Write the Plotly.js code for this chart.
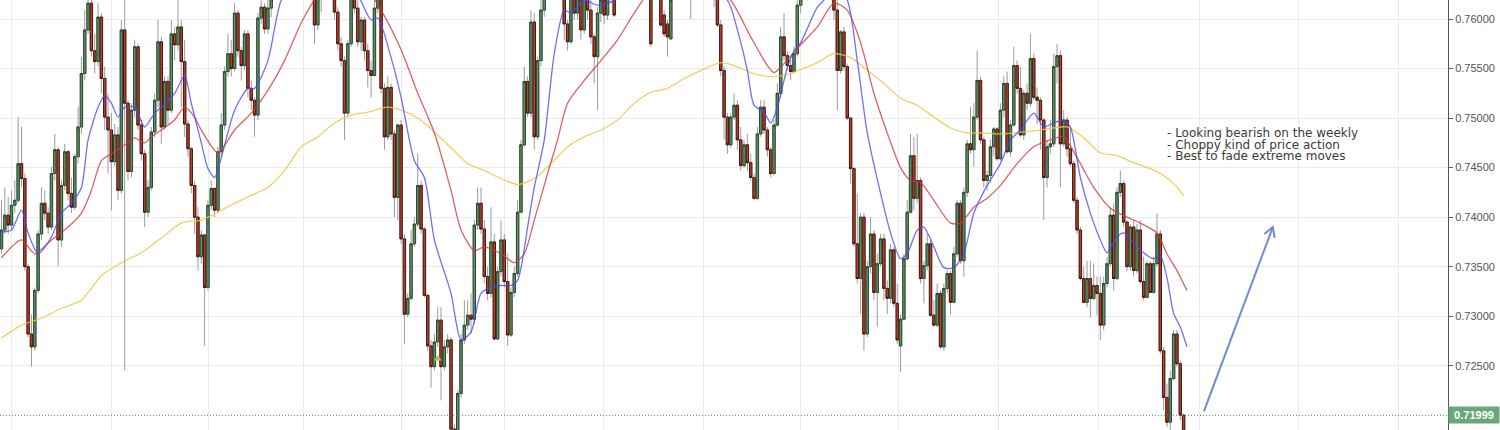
<!DOCTYPE html>
<html><head><meta charset="utf-8">
<script src="https://cdn.plot.ly/plotly-3.0.1.min.js"></script>
<style>html,body{margin:0;padding:0;background:#fff}#chart{width:1500px;height:430px}</style>
</head><body><div id="chart"></div>
<script>
const openP = [0.7368,0.7387,0.7402,0.7392,0.7412,0.7417,0.7454,0.7439,0.7350,0.7282,
0.7269,0.7326,0.7383,0.7414,0.7404,0.7390,0.7444,0.7468,0.7377,0.7432,
0.7466,0.7424,0.7410,0.7461,0.7491,0.7545,0.7589,0.7616,0.7568,0.7557,
0.7602,0.7540,0.7501,0.7488,0.7456,0.7483,0.7427,0.7589,0.7515,0.7446,
0.7508,0.7572,0.7493,0.7464,0.7405,0.7430,0.7486,0.7518,0.7577,0.7491,
0.7537,0.7508,0.7585,0.7574,0.7592,0.7557,0.7494,0.7469,0.7432,0.7400,
0.7360,0.7382,0.7329,0.7412,0.7429,0.7407,0.7466,0.7493,0.7547,0.7565,
0.7550,0.7606,0.7568,0.7553,0.7585,0.7530,0.7518,0.7503,0.7601,0.7612,
0.7590,0.7611,0.7636,0.7648,0.7660,0.7652,0.7670,0.7660,0.7645,0.7655,
0.7642,0.7638,0.7632,0.7640,0.7629,0.7594,0.7629,0.7639,0.7632,0.7626,
0.7624,0.7607,0.7575,0.7558,0.7505,0.7575,0.7626,0.7611,0.7577,0.7599,
0.7568,0.7548,0.7543,0.7611,0.7622,0.7530,0.7481,0.7531,0.7484,0.7420,
0.7493,0.7378,0.7302,0.7318,0.7373,0.7393,0.7432,0.7388,0.7321,0.7270,
0.7249,0.7274,0.7296,0.7249,0.7269,0.7276,0.7186,0.7178,0.7222,0.7276,
0.7291,0.7301,0.7297,0.7392,0.7414,0.7388,0.7340,0.7323,0.7375,0.7277,
0.7345,0.7377,0.7335,0.7281,0.7324,0.7343,0.7405,0.7473,0.7537,0.7505,
0.7597,0.7481,0.7558,0.7609,0.7626,0.7640,0.7655,0.7648,0.7660,0.7636,
0.7595,0.7577,0.7622,0.7606,0.7622,0.7589,0.7626,0.7609,0.7582,0.7562,
0.7606,0.7619,0.7604,0.7622,0.7629,0.7624,0.7640,0.7652,0.7665,0.7658,
0.7670,0.7662,0.7648,0.7640,0.7632,0.7626,0.7625,0.7640,0.7626,0.7604,
0.7595,0.7580,0.7622,0.7635,0.7648,0.7640,0.7652,0.7632,0.7626,0.7640,
0.7655,0.7662,0.7668,0.7660,0.7645,0.7626,0.7594,0.7548,0.7501,0.7473,
0.7501,0.7513,0.7478,0.7452,0.7473,0.7455,0.7440,0.7419,0.7484,0.7511,
0.7488,0.7468,0.7444,0.7493,0.7525,0.7582,0.7563,0.7553,0.7547,0.7565,
0.7614,0.7626,0.7640,0.7655,0.7668,0.7678,0.7670,0.7682,0.7672,0.7660,
0.7645,0.7609,0.7548,0.7587,0.7552,0.7500,0.7449,0.7373,0.7338,0.7400,
0.7282,0.7350,0.7383,0.7324,0.7353,0.7378,0.7328,0.7318,0.7367,0.7313,
0.7270,0.7297,0.7358,0.7405,0.7462,0.7419,0.7437,0.7338,0.7351,0.7373,
0.7301,0.7291,0.7323,0.7269,0.7328,0.7343,0.7314,0.7363,0.7414,0.7356,
0.7425,0.7474,0.7468,0.7501,0.7538,0.7478,0.7437,0.7442,0.7471,0.7489,
0.7459,0.7508,0.7535,0.7466,0.7493,0.7553,0.7530,0.7483,0.7525,0.7515,
0.7560,0.7521,0.7518,0.7498,0.7440,0.7471,0.7474,0.7552,0.7563,0.7474,
0.7498,0.7469,0.7454,0.7417,0.7387,0.7338,0.7314,0.7338,0.7318,0.7331,
0.7323,0.7291,0.7333,0.7353,0.7402,0.7338,0.7425,0.7434,0.7395,0.7350,
0.7390,0.7346,0.7387,0.7335,0.7319,0.7353,0.7324,0.7353,0.7383,0.7265,
0.7218,0.7193,0.7237,0.7282,0.7252,0.7200];
const highP = [0.7417,0.7430,0.7420,0.7427,0.7437,0.7501,0.7491,0.7444,0.7353,0.7302,
0.7329,0.7387,0.7430,0.7427,0.7410,0.7451,0.7484,0.7471,0.7437,0.7474,
0.7468,0.7440,0.7464,0.7511,0.7562,0.7609,0.7629,0.7626,0.7585,0.7616,
0.7606,0.7552,0.7525,0.7505,0.7494,0.7491,0.7599,0.7619,0.7518,0.7515,
0.7579,0.7575,0.7498,0.7468,0.7437,0.7491,0.7525,0.7599,0.7582,0.7542,
0.7542,0.7599,0.7592,0.7622,0.7599,0.7579,0.7498,0.7471,0.7437,0.7410,
0.7387,0.7383,0.7417,0.7437,0.7430,0.7471,0.7505,0.7552,0.7585,0.7579,
0.7616,0.7609,0.7572,0.7589,0.7589,0.7538,0.7521,0.7606,0.7619,0.7616,
0.7619,0.7640,0.7655,0.7668,0.7672,0.7675,0.7682,0.7668,0.7660,0.7662,
0.7650,0.7648,0.7645,0.7650,0.7636,0.7639,0.7649,0.7655,0.7648,0.7640,
0.7629,0.7612,0.7582,0.7562,0.7579,0.7636,0.7632,0.7619,0.7602,0.7602,
0.7575,0.7558,0.7619,0.7632,0.7629,0.7535,0.7542,0.7535,0.7488,0.7494,
0.7498,0.7383,0.7323,0.7387,0.7400,0.7464,0.7437,0.7390,0.7323,0.7276,
0.7282,0.7309,0.7309,0.7276,0.7282,0.7279,0.7191,0.7225,0.7282,0.7316,
0.7316,0.7323,0.7397,0.7430,0.7430,0.7397,0.7350,0.7410,0.7383,0.7350,
0.7397,0.7383,0.7363,0.7329,0.7350,0.7417,0.7478,0.7552,0.7542,0.7609,
0.7606,0.7562,0.7619,0.7639,0.7650,0.7662,0.7670,0.7668,0.7672,0.7639,
0.7599,0.7632,0.7629,0.7632,0.7629,0.7636,0.7632,0.7619,0.7585,0.7612,
0.7629,0.7626,0.7629,0.7639,0.7636,0.7645,0.7660,0.7672,0.7680,0.7675,
0.7685,0.7670,0.7660,0.7652,0.7640,0.7632,0.7645,0.7652,0.7632,0.7609,
0.7599,0.7629,0.7640,0.7655,0.7662,0.7658,0.7665,0.7639,0.7645,0.7660,
0.7670,0.7678,0.7680,0.7672,0.7652,0.7632,0.7599,0.7552,0.7505,0.7505,
0.7525,0.7518,0.7491,0.7478,0.7484,0.7464,0.7444,0.7491,0.7518,0.7518,
0.7491,0.7471,0.7498,0.7535,0.7592,0.7606,0.7568,0.7562,0.7572,0.7619,
0.7636,0.7648,0.7660,0.7675,0.7685,0.7690,0.7688,0.7695,0.7680,0.7668,
0.7648,0.7619,0.7589,0.7592,0.7555,0.7501,0.7451,0.7424,0.7404,0.7404,
0.7356,0.7400,0.7387,0.7363,0.7383,0.7383,0.7336,0.7373,0.7370,0.7333,
0.7302,0.7363,0.7417,0.7484,0.7481,0.7484,0.7440,0.7356,0.7383,0.7377,
0.7316,0.7333,0.7326,0.7333,0.7346,0.7346,0.7370,0.7417,0.7417,0.7430,
0.7478,0.7511,0.7515,0.7568,0.7542,0.7481,0.7447,0.7478,0.7491,0.7491,
0.7515,0.7542,0.7547,0.7498,0.7572,0.7558,0.7552,0.7528,0.7535,0.7585,
0.7565,0.7531,0.7521,0.7500,0.7478,0.7498,0.7565,0.7575,0.7568,0.7508,
0.7501,0.7491,0.7457,0.7420,0.7390,0.7350,0.7356,0.7356,0.7353,0.7340,
0.7340,0.7340,0.7360,0.7410,0.7414,0.7430,0.7447,0.7437,0.7397,0.7393,
0.7397,0.7393,0.7397,0.7360,0.7356,0.7356,0.7360,0.7404,0.7387,0.7269,
0.7232,0.7245,0.7286,0.7286,0.7255,0.7202];
const lowP = [0.7363,0.7383,0.7383,0.7387,0.7404,0.7414,0.7430,0.7346,0.7279,0.7249,
0.7265,0.7323,0.7377,0.7397,0.7383,0.7387,0.7437,0.7350,0.7370,0.7427,
0.7417,0.7404,0.7407,0.7454,0.7484,0.7538,0.7585,0.7562,0.7545,0.7552,
0.7525,0.7488,0.7444,0.7407,0.7451,0.7417,0.7424,0.7245,0.7437,0.7440,
0.7501,0.7488,0.7457,0.7390,0.7400,0.7427,0.7481,0.7511,0.7474,0.7488,
0.7494,0.7505,0.7558,0.7568,0.7511,0.7481,0.7461,0.7424,0.7383,0.7346,
0.7353,0.7270,0.7326,0.7407,0.7400,0.7404,0.7461,0.7488,0.7542,0.7542,
0.7547,0.7562,0.7538,0.7548,0.7521,0.7508,0.7481,0.7498,0.7595,0.7585,
0.7585,0.7602,0.7625,0.7640,0.7645,0.7648,0.7655,0.7640,0.7635,0.7638,
0.7630,0.7626,0.7624,0.7628,0.7575,0.7589,0.7607,0.7622,0.7621,0.7620,
0.7599,0.7568,0.7552,0.7478,0.7501,0.7572,0.7606,0.7572,0.7568,0.7558,
0.7531,0.7521,0.7542,0.7606,0.7525,0.7468,0.7478,0.7478,0.7400,0.7397,
0.7373,0.7272,0.7299,0.7316,0.7370,0.7390,0.7383,0.7319,0.7265,0.7228,
0.7245,0.7269,0.7215,0.7245,0.7262,0.7175,0.7168,0.7171,0.7218,0.7272,
0.7286,0.7282,0.7292,0.7387,0.7383,0.7333,0.7316,0.7319,0.7276,0.7276,
0.7340,0.7329,0.7270,0.7279,0.7319,0.7340,0.7404,0.7471,0.7501,0.7501,
0.7468,0.7478,0.7552,0.7602,0.7622,0.7632,0.7640,0.7638,0.7630,0.7579,
0.7568,0.7575,0.7599,0.7599,0.7579,0.7585,0.7599,0.7575,0.7535,0.7508,
0.7597,0.7595,0.7599,0.7616,0.7602,0.7621,0.7632,0.7645,0.7650,0.7645,
0.7655,0.7640,0.7635,0.7626,0.7622,0.7572,0.7622,0.7625,0.7592,0.7582,
0.7562,0.7579,0.7621,0.7628,0.7636,0.7630,0.7640,0.7600,0.7622,0.7632,
0.7645,0.7650,0.7652,0.7640,0.7612,0.7592,0.7542,0.7478,0.7464,0.7470,
0.7498,0.7468,0.7447,0.7450,0.7447,0.7437,0.7417,0.7417,0.7481,0.7484,
0.7461,0.7440,0.7442,0.7491,0.7521,0.7558,0.7548,0.7538,0.7545,0.7562,
0.7606,0.7621,0.7632,0.7648,0.7655,0.7660,0.7662,0.7665,0.7650,0.7640,
0.7599,0.7508,0.7545,0.7548,0.7498,0.7434,0.7370,0.7333,0.7302,0.7265,
0.7279,0.7343,0.7316,0.7289,0.7350,0.7316,0.7302,0.7313,0.7309,0.7272,
0.7244,0.7296,0.7356,0.7404,0.7407,0.7414,0.7333,0.7313,0.7346,0.7299,
0.7289,0.7289,0.7267,0.7265,0.7323,0.7302,0.7313,0.7360,0.7353,0.7340,
0.7420,0.7464,0.7451,0.7498,0.7474,0.7430,0.7427,0.7435,0.7461,0.7457,
0.7457,0.7501,0.7464,0.7461,0.7491,0.7525,0.7481,0.7478,0.7508,0.7511,
0.7518,0.7494,0.7468,0.7397,0.7430,0.7464,0.7471,0.7535,0.7430,0.7471,
0.7461,0.7451,0.7414,0.7383,0.7336,0.7313,0.7309,0.7299,0.7316,0.7301,
0.7276,0.7286,0.7329,0.7350,0.7326,0.7336,0.7420,0.7390,0.7346,0.7346,
0.7340,0.7343,0.7333,0.7316,0.7318,0.7323,0.7323,0.7350,0.7262,0.7205,
0.7188,0.7185,0.7235,0.7249,0.7195,0.7178];
const closeP = [0.7387,0.7402,0.7392,0.7412,0.7417,0.7454,0.7439,0.7350,0.7282,0.7269,
0.7326,0.7383,0.7414,0.7404,0.7390,0.7444,0.7468,0.7377,0.7432,0.7466,
0.7424,0.7410,0.7461,0.7491,0.7545,0.7589,0.7616,0.7568,0.7557,0.7602,
0.7540,0.7501,0.7488,0.7456,0.7483,0.7427,0.7589,0.7515,0.7446,0.7508,
0.7572,0.7493,0.7464,0.7405,0.7430,0.7486,0.7518,0.7577,0.7491,0.7537,
0.7508,0.7585,0.7574,0.7592,0.7557,0.7494,0.7469,0.7432,0.7400,0.7360,
0.7382,0.7329,0.7412,0.7429,0.7407,0.7466,0.7493,0.7547,0.7565,0.7550,
0.7606,0.7568,0.7553,0.7585,0.7530,0.7518,0.7503,0.7601,0.7612,0.7590,
0.7611,0.7636,0.7648,0.7660,0.7652,0.7670,0.7660,0.7645,0.7655,0.7642,
0.7638,0.7632,0.7640,0.7630,0.7594,0.7629,0.7639,0.7632,0.7626,0.7624,
0.7607,0.7575,0.7558,0.7505,0.7575,0.7626,0.7611,0.7577,0.7599,0.7568,
0.7548,0.7543,0.7611,0.7622,0.7530,0.7481,0.7531,0.7484,0.7420,0.7493,
0.7378,0.7302,0.7318,0.7373,0.7393,0.7432,0.7388,0.7321,0.7270,0.7249,
0.7274,0.7296,0.7249,0.7269,0.7276,0.7186,0.7178,0.7222,0.7276,0.7291,
0.7301,0.7297,0.7392,0.7414,0.7388,0.7340,0.7323,0.7375,0.7277,0.7345,
0.7377,0.7335,0.7281,0.7324,0.7343,0.7405,0.7473,0.7537,0.7505,0.7597,
0.7481,0.7558,0.7609,0.7626,0.7640,0.7655,0.7648,0.7660,0.7636,0.7595,
0.7577,0.7622,0.7606,0.7622,0.7589,0.7626,0.7609,0.7582,0.7562,0.7606,
0.7619,0.7604,0.7622,0.7629,0.7604,0.7640,0.7652,0.7665,0.7658,0.7670,
0.7662,0.7648,0.7640,0.7632,0.7626,0.7575,0.7640,0.7630,0.7594,0.7585,
0.7582,0.7619,0.7635,0.7648,0.7640,0.7652,0.7645,0.7626,0.7640,0.7655,
0.7662,0.7668,0.7660,0.7645,0.7632,0.7594,0.7548,0.7501,0.7473,0.7501,
0.7513,0.7478,0.7452,0.7473,0.7455,0.7440,0.7419,0.7484,0.7511,0.7488,
0.7468,0.7444,0.7493,0.7525,0.7582,0.7563,0.7553,0.7547,0.7565,0.7614,
0.7626,0.7640,0.7655,0.7668,0.7678,0.7670,0.7682,0.7672,0.7660,0.7645,
0.7609,0.7548,0.7587,0.7552,0.7500,0.7449,0.7373,0.7338,0.7400,0.7282,
0.7350,0.7383,0.7324,0.7353,0.7378,0.7328,0.7318,0.7367,0.7313,0.7276,
0.7297,0.7358,0.7405,0.7462,0.7419,0.7437,0.7338,0.7351,0.7373,0.7301,
0.7291,0.7323,0.7269,0.7328,0.7343,0.7314,0.7363,0.7414,0.7356,0.7425,
0.7474,0.7468,0.7501,0.7538,0.7478,0.7437,0.7442,0.7471,0.7489,0.7459,
0.7508,0.7535,0.7466,0.7493,0.7553,0.7530,0.7483,0.7525,0.7515,0.7560,
0.7521,0.7518,0.7498,0.7440,0.7471,0.7474,0.7552,0.7563,0.7474,0.7498,
0.7469,0.7454,0.7417,0.7387,0.7338,0.7314,0.7338,0.7318,0.7331,0.7323,
0.7291,0.7333,0.7353,0.7402,0.7338,0.7425,0.7434,0.7395,0.7350,0.7390,
0.7346,0.7387,0.7335,0.7319,0.7353,0.7324,0.7353,0.7383,0.7265,0.7218,
0.7193,0.7237,0.7282,0.7252,0.7200,0.7181];

// moving averages (bar index -> value)
const fastIdx = [0,3,6,8,11,15,18,21,24,26,29,31,33,35,37,40,43,46,48,52,55,57,60,62,64,66,70,74,76,80,84,90,99,107,111,113,117,120,124,127,130,135,138,141,144,147,150,153,155,158,160,163,166,169,171,175,179,183,192,207,218,221,224,226,229,231,233,236,238,240,245,247,250,254,257,260,264,267,270,272,275,277,280,283,286,289,292,296,300,303,306,310,313,316,319,321,324,327,330,332,335,337,340,343,346,348,350,352,354,356];
const fastMA = [0.7385,0.7387,0.7407,0.7384,0.7363,0.7380,0.7404,0.7414,0.7430,0.7478,0.7511,0.7523,0.7515,0.7501,0.7511,0.7511,0.7491,0.7505,0.7511,0.7525,0.7543,0.7515,0.7475,0.7449,0.7440,0.7460,0.7508,0.7530,0.7530,0.7558,0.7619,0.7649,0.7654,0.7624,0.7599,0.7601,0.7561,0.7521,0.7457,0.7440,0.7377,0.7323,0.7276,0.7284,0.7323,0.7329,0.7331,0.7331,0.7336,0.7390,0.7430,0.7478,0.7565,0.7609,0.7606,0.7619,0.7614,0.7617,0.7639,0.7644,0.7619,0.7589,0.7548,0.7513,0.7506,0.7495,0.7511,0.7551,0.7568,0.7576,0.7612,0.7619,0.7634,0.7619,0.7558,0.7485,0.7424,0.7384,0.7358,0.7363,0.7387,0.7390,0.7370,0.7349,0.7349,0.7363,0.7404,0.7432,0.7454,0.7478,0.7488,0.7505,0.7491,0.7495,0.7498,0.7491,0.7440,0.7404,0.7377,0.7364,0.7380,0.7384,0.7374,0.7364,0.7358,0.7361,0.7339,0.7303,0.7289,0.7269];
const midIdx = [0,6,10,15,20,24,27,30,33,38,40,43,45,48,52,55,58,60,65,70,75,80,85,90,95,100,105,110,114,120,125,130,135,138,142,145,150,154,157,160,164,167,170,175,180,185,190,195,204,213,219,225,230,232,235,240,245,250,254,258,262,266,270,273,276,280,285,288,292,296,300,305,310,315,319,323,328,333,338,342,347,350,353,356];
const midMA = [0.7359,0.7377,0.7363,0.7377,0.7390,0.7404,0.7427,0.7457,0.7464,0.7475,0.7480,0.7475,0.7481,0.7488,0.7498,0.7511,0.7501,0.7488,0.7465,0.7488,0.7505,0.7528,0.7558,0.7596,0.7624,0.7639,0.7644,0.7629,0.7609,0.7569,0.7525,0.7485,0.7427,0.7387,0.7366,0.7370,0.7363,0.7354,0.7363,0.7397,0.7444,0.7478,0.7515,0.7538,0.7558,0.7579,0.7606,0.7629,0.7644,0.7634,0.7619,0.7582,0.7553,0.7546,0.7555,0.7574,0.7592,0.7616,0.7609,0.7576,0.7525,0.7485,0.7450,0.7437,0.7435,0.7417,0.7394,0.7394,0.7410,0.7419,0.7432,0.7454,0.7471,0.7478,0.7481,0.7460,0.7430,0.7409,0.7400,0.7394,0.7384,0.7363,0.7346,0.7326];
const slowIdx = [0,6,12,18,24,30,36,42,48,54,60,70,75,80,85,90,95,100,105,110,116,120,125,130,135,140,145,150,155,160,165,170,175,180,185,190,195,200,205,210,216,220,225,230,235,240,245,250,255,260,265,270,275,280,285,290,295,300,310,320,325,330,335,340,345,349,352,355];
const slowMA = [0.7278,0.7291,0.7298,0.7308,0.7316,0.7341,0.7354,0.7364,0.7379,0.7394,0.7397,0.7414,0.7422,0.7430,0.7447,0.7471,0.7481,0.7495,0.7503,0.7506,0.7511,0.7508,0.7500,0.7486,0.7470,0.7454,0.7447,0.7439,0.7433,0.7439,0.7454,0.7471,0.7481,0.7488,0.7498,0.7515,0.7526,0.7530,0.7540,0.7548,0.7556,0.7553,0.7546,0.7542,0.7543,0.7549,0.7556,0.7565,0.7561,0.7548,0.7535,0.7520,0.7513,0.7501,0.7490,0.7485,0.7485,0.7484,0.7487,0.7491,0.7480,0.7465,0.7462,0.7455,0.7449,0.7442,0.7434,0.7422];

const signalIdx = [131];
const signalPrice = [0.7257];
const yTicks = [0.725,0.730,0.735,0.740,0.745,0.750,0.755,0.760];
const lastPrice = 0.71999;
const notes = ["- Looking bearish on the weekly","- Choppy kind of price action","- Best to fade extreme moves"];
const notePrices = [0.7485,0.74733,0.74614];
const noteIdx = 349.7;
const arrowFrom = [361.1, 0.7204];
const arrowTo = [381.8, 0.7390];
const gridIdx = [3.15,32.9,62.3,90.8,120.0,151.2,180.9,210.9,239.8,269.5,299.5,329.3,359.9,389.6,419.4];

const xr = [-0.45, 434.4], yr = [0.71851, 0.76192];
const idx = closeP.map((_, i) => i);
const bodyHigh = openP.map((o, i) => Math.max(o, closeP[i]));
const bodyLow = openP.map((o, i) => Math.min(o, closeP[i]));

const wick = {type:'candlestick', x:idx, open:openP, high:highP, low:lowP, close:closeP,
  increasing:{line:{color:'#9b9b9b', width:1}, fillcolor:'#9b9b9b'},
  decreasing:{line:{color:'#9b9b9b', width:1}, fillcolor:'#9b9b9b'},
  whiskerwidth:0, hoverinfo:'skip', showlegend:false};
const body = {type:'candlestick', x:idx, open:openP, high:bodyHigh, low:bodyLow, close:closeP,
  increasing:{line:{color:'#2b4a30', width:1}, fillcolor:'#5d9067'},
  decreasing:{line:{color:'#4a170e', width:1}, fillcolor:'#b0432f'},
  whiskerwidth:0, hoverinfo:'skip', showlegend:false};
function maLine(xs, ys, col){
  return {type:'scatter', mode:'lines', x:xs, y:ys, line:{color:col, width:1.3, shape:'spline', smoothing:0.7}, hoverinfo:'skip', showlegend:false};
}
const sig = {type:'scatter', mode:'markers', x:signalIdx, y:signalPrice, marker:{symbol:'triangle-up', size:7, color:'#9ccc4a'}, hoverinfo:'skip', showlegend:false};

// arrow head (open V)
const pxX = 1448/(xr[1]-xr[0]), pxY = 430/(yr[1]-yr[0]);
const dxp = (arrowTo[0]-arrowFrom[0])*pxX, dyp = (arrowTo[1]-arrowFrom[1])*pxY;
const len = Math.hypot(dxp, dyp), ux = -dxp/len, uy = -dyp/len;
function arm(s){ const a = s*Math.PI/6, c = Math.cos(a), sn = Math.sin(a);
  const vx = ux*c - uy*sn, vy = ux*sn + uy*c;
  return [arrowTo[0] + vx*11/pxX, arrowTo[1] + vy*11/pxY]; }
const a1 = arm(1), a2 = arm(-1);
const arrowCol = 'rgba(105,132,210,0.95)';

const shapes = [
  {type:'line', xref:'paper', x0:0, x1:1, yref:'y', y0:lastPrice, y1:lastPrice, line:{color:'#2f9a50', width:1, dash:'1px,2px'}, layer:'above'},
  {type:'line', xref:'x', yref:'y', x0:arrowFrom[0], y0:arrowFrom[1], x1:arrowTo[0], y1:arrowTo[1], line:{color:arrowCol, width:2}},
  {type:'path', xref:'x', yref:'y', path:`M ${a1[0]},${a1[1]} L ${arrowTo[0]},${arrowTo[1]} L ${a2[0]},${a2[1]}`, line:{color:arrowCol, width:2}}
];
const annotations = notes.map((t, k) => ({xref:'x', yref:'y', x:noteIdx, y:notePrices[k], xanchor:'left', yanchor:'middle', text:t, showarrow:false, font:{family:'DejaVu Sans', size:12, color:'#3a3a3a'}, borderpad:0}));
annotations.push({xref:'paper', x:1, xanchor:'left', yref:'y', y:lastPrice, yanchor:'middle', text:'<b>'+lastPrice.toFixed(5)+'</b>', showarrow:false, bgcolor:'#6aa67b', font:{family:'Liberation Sans, Arial', size:11, color:'#ffffff'}, borderpad:2, width:46});

const layout = {
  width:1500, height:430, margin:{l:0, r:52, t:0, b:0, pad:0},
  paper_bgcolor:'#ffffff', plot_bgcolor:'#ffffff', showlegend:false,
  boxgap:0.25, boxgroupgap:0.05, boxmode:'overlay',
  xaxis:{range:xr, tickvals:gridIdx, showticklabels:false, ticks:'', showgrid:true, gridcolor:'#ebebeb', gridwidth:1, zeroline:false, showline:false, rangeslider:{visible:false}, fixedrange:true},
  yaxis:{side:'right', range:yr, tickvals:yTicks, tickformat:'.5f', ticks:'outside', ticklen:4, tickcolor:'#666', tickfont:{family:'Liberation Sans, Arial', size:11, color:'#555'}, showline:true, linecolor:'#555', linewidth:1, showgrid:true, gridcolor:'#ebebeb', gridwidth:1, zeroline:false, fixedrange:true},
  shapes:shapes, annotations:annotations
};
Plotly.newPlot('chart', [wick, body,
  maLine(slowIdx, slowMA, 'rgba(246,196,70,0.85)'),
  maLine(midIdx, midMA, 'rgba(214,52,52,0.78)'),
  maLine(fastIdx, fastMA, 'rgba(70,70,255,0.78)'),
  sig], layout, {staticPlot:true, displayModeBar:false});
</script>
</body></html>
